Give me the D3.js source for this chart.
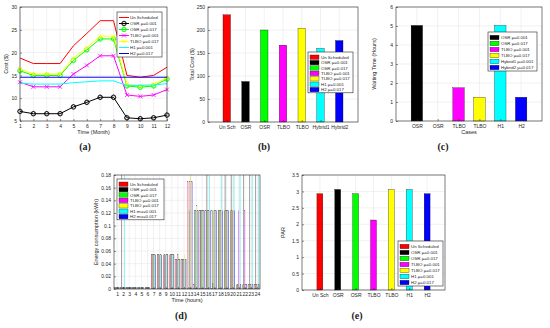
<!DOCTYPE html>
<html>
<head>
<meta charset="utf-8">
<script src="https://cdn.jsdelivr.net/npm/d3@7"></script>
<style>
body { margin: 0; background: #fff; }
text { font-family: "Liberation Sans", Arial, sans-serif; }
</style>
</head>
<body>
<div id="fig"></div>
<script>
// ---- data ----
const months = [1, 2, 3, 4, 5, 6, 7, 8, 9, 10, 11, 12];
const costUnSch = [18.8, 17.6, 17.6, 17.6, 21.5, 24.2, 27.0, 27.0, 15.0, 14.6, 15.0, 16.8];
const costOsr1 = [7.1, 6.6, 6.6, 6.6, 8.1, 9.1, 10.2, 10.2, 5.7, 5.5, 5.7, 6.3];
const costOsr2 = [16.0, 15.0, 15.0, 15.0, 18.3, 20.6, 23.0, 23.0, 12.7, 12.4, 12.7, 14.2];
const costTlbo1 = [13.5, 12.5, 12.5, 12.5, 15.3, 17.2, 19.3, 19.3, 10.7, 10.4, 10.7, 11.9];
const costTlbo2 = [16.4, 15.3, 15.3, 15.3, 18.8, 21.1, 23.6, 23.6, 13.1, 12.7, 13.1, 14.5];
const costH1 = [13.3, 13.1, 13.1, 13.1, 13.4, 13.6, 13.8, 13.8, 12.8, 12.8, 12.9, 13.2];
const costH2 = [14.6, 14.6, 14.6, 14.6, 14.6, 14.6, 14.6, 14.6, 14.6, 14.6, 14.6, 14.6];

const totalCats = ["Un Sch", "OSR", "OSR", "TLBO", "TLBO", "Hybrid1", "Hybrid2"];
const totalCost = [233, 88, 200, 167, 204, 160, 177];

const waitCats = ["OSR", "OSR", "TLBO", "TLBO", "H1", "H2"];
const waitTime = [5.03, 0, 1.75, 1.25, 5.03, 1.25];

const hours = d3.range(1, 25);
const eUnSch = [.003,.003,.003,.003,.003,.003,.054,.054,.054,.054,.047,.047,.17,.007,.124,.124,.124,.124,.124,.124,.007,.007,.007,.007];
const eOsr1  = [.003,.2,.003,.003,.003,.003,.054,.054,.054,.054,.047,.047,.003,.124,.124,.2,.008,.124,.2,.2,.007,.2,.2,.2];
const eOsr2  = [.003,.003,.003,.003,.003,.003,.054,.054,.054,.054,.047,.047,.124,.124,.124,.124,.124,.124,.124,.124,.007,.007,.007,.007];
const eTlbo1 = [.003,.003,.003,.003,.003,.003,.054,.054,.054,.054,.054,.047,.17,.124,.124,.124,.124,.124,.124,.124,.124,.124,.007,.007];
const eTlbo2 = [.003,.003,.003,.003,.003,.003,.054,.054,.054,.054,.054,.054,.2,.132,.124,.124,.124,.124,.124,.124,.007,.007,.007,.007];
const eH1    = [.003,.2,.003,.003,.003,.003,.054,.054,.054,.054,.047,.047,.003,.124,.124,.2,.124,.2,.124,.2,.2,.007,.2,.2];
const eH2    = [.003,.003,.003,.003,.003,.003,.054,.054,.054,.054,.047,.047,.17,.124,.124,.124,.124,.124,.124,.124,.007,.007,.007,.007];

const parCats = ["Un Sch", "OSR", "OSR", "TLBO", "TLBO", "H1", "H2"];
const parVals = [2.93, 3.06, 2.93, 2.13, 3.06, 3.06, 2.93];

const colors = ["#ff0000", "#000000", "#00ff00", "#ff00ff", "#ffff00", "#00ffff", "#0000ff"];
const names7 = ["Un Scheduled", "OSR \u03bc=0.001", "OSR \u03bc=0.017", "TLBO \u03bc=0.001", "TLBO \u03bc=0.017", "H1 \u03bc=0.001", "H2 \u03bc=0.017"];

// ---- svg ----
const width = 550, height = 328;
const svg = d3.select("#fig").append("svg")
    .attr("width", width)
    .attr("height", height)
    .style("background", "#fff");

const axisColor = "#262626";

// light grid behind the marks
function drawGrid(box, x, y, xTicks, yTicks) {
    const g = svg.append("g");
    g.selectAll(".gx").data(xTicks).enter().append("line")
        .attr("x1", d => x(d)).attr("x2", d => x(d))
        .attr("y1", box.y).attr("y2", box.y + box.h)
        .attr("stroke", "#e3e3e3").attr("stroke-width", 0.5);
    g.selectAll(".gy").data(yTicks).enter().append("line")
        .attr("x1", box.x).attr("x2", box.x + box.w)
        .attr("y1", d => y(d)).attr("y2", d => y(d))
        .attr("stroke", "#e3e3e3").attr("stroke-width", 0.5);
}

// box, ticks and labels on top
function drawAxes(box, x, y, xTicks, yTicks, xFmt, yFmt, xLabel, yLabel, yLabelX) {
    const gx = svg.append("g").attr("transform", `translate(0,${box.y + box.h})`)
        .call(d3.axisBottom(x).tickValues(xTicks).tickFormat(xFmt).tickSize(-2).tickPadding(3));
    const gy = svg.append("g").attr("transform", `translate(${box.x},0)`)
        .call(d3.axisLeft(y).tickValues(yTicks).tickFormat(yFmt).tickSize(-2).tickPadding(3));
    [gx, gy].forEach(g => {
        g.select(".domain").remove();
        g.selectAll("line").attr("stroke", axisColor).attr("stroke-width", 0.5);
        g.selectAll("text").attr("fill", axisColor).style("font-size", "5px");
    });
    svg.append("rect")
        .attr("x", box.x).attr("y", box.y)
        .attr("width", box.w).attr("height", box.h)
        .attr("fill", "none").attr("stroke", axisColor).attr("stroke-width", 0.6);
    if (xLabel) {
        svg.append("text").attr("x", box.x + box.w / 2).attr("y", box.y + box.h + 13)
            .attr("text-anchor", "middle").attr("fill", axisColor)
            .style("font-size", "5.5px").text(xLabel);
    }
    svg.append("text")
        .attr("transform", `translate(${yLabelX},${box.y + box.h / 2}) rotate(-90)`)
        .attr("text-anchor", "middle").attr("fill", axisColor)
        .style("font-size", "5.5px").text(yLabel);
}

function drawLegend(lx, ly, lw, rowH, labels, cols, kind) {
    const g = svg.append("g");
    g.append("rect").attr("x", lx).attr("y", ly)
        .attr("width", lw).attr("height", rowH * labels.length + 3)
        .attr("fill", "#fff").attr("stroke", axisColor).attr("stroke-width", 0.6);
    labels.forEach((lab, i) => {
        const cy = ly + 2.5 + rowH * i + rowH / 2;
        if (kind === "rect") {
            g.append("rect").attr("x", lx + 2).attr("y", cy - 2.2)
                .attr("width", 9).attr("height", 4.4)
                .attr("fill", cols[i]).attr("stroke", "#000").attr("stroke-width", 0.3);
        } else {
            g.append("line").attr("x1", lx + 2).attr("x2", lx + 12)
                .attr("y1", cy).attr("y2", cy)
                .attr("stroke", cols[i]).attr("stroke-width", 1);
            drawMarker(g, kind[i], lx + 7, cy, cols[i]);
        }
        g.append("text").attr("x", lx + 13).attr("y", cy + 1.6)
            .attr("fill", axisColor).style("font-size", "4.4px").text(lab);
    });
}

function drawMarker(g, m, cx, cy, col) {
    if (m === "od") {
        g.append("circle").attr("cx", cx).attr("cy", cy).attr("r", 2.3)
            .attr("fill", "none").attr("stroke", col).attr("stroke-width", 0.8);
        g.append("path").attr("d", `M${cx},${cy - 2.3}L${cx + 2.3},${cy}L${cx},${cy + 2.3}L${cx - 2.3},${cy}Z`)
            .attr("fill", "none").attr("stroke", col).attr("stroke-width", 0.6);
    } else if (m === "x") {
        g.append("path").attr("d", `M${cx - 2},${cy - 2}L${cx + 2},${cy + 2}M${cx - 2},${cy + 2}L${cx + 2},${cy - 2}`)
            .attr("stroke", col).attr("stroke-width", 0.8);
    }
}

// ---- (a) cost per month ----
{
    const box = { x: 20, y: 7, w: 147, h: 114 };
    const x = d3.scaleLinear().domain([1, 12]).range([box.x, box.x + box.w]);
    const y = d3.scaleLinear().domain([5, 30]).range([box.y + box.h, box.y]);
    drawGrid(box, x, y, months, [5, 10, 15, 20, 25, 30]);
    const series = [costUnSch, costOsr1, costOsr2, costTlbo1, costTlbo2, costH1, costH2];
    const marks = ["", "od", "od", "x", "x", "", ""];
    const line = d3.line().x((d, i) => x(months[i])).y(d => y(d));
    series.forEach((s, k) => {
        svg.append("path").datum(s).attr("d", line)
            .attr("fill", "none").attr("stroke", colors[k]).attr("stroke-width", 1);
        if (marks[k]) {
            const g = svg.append("g");
            s.forEach((v, i) => drawMarker(g, marks[k], x(months[i]), y(v), colors[k]));
        }
    });
    drawAxes(box, x, y, months, [5, 10, 15, 20, 25, 30], d3.format("d"), d3.format("d"),
        "Time (Month)", "Cost ($)", 8);
    drawLegend(117, 12, 45, 6, names7, colors, marks);
}

// ---- (b) total cost ----
{
    const box = { x: 208, y: 7, w: 150, h: 115 };
    const x = d3.scaleLinear().domain([0, 8]).range([box.x, box.x + box.w]);
    const y = d3.scaleLinear().domain([0, 250]).range([box.y + box.h, box.y]);
    const idx = d3.range(1, 8);
    drawGrid(box, x, y, idx, d3.range(0, 251, 50));
    const bw = x(0.4) - x(0);
    svg.append("g").selectAll("rect").data(totalCost).enter().append("rect")
        .attr("x", (d, i) => x(i + 1) - bw / 2).attr("width", bw)
        .attr("y", d => y(d)).attr("height", d => y(0) - y(d))
        .attr("fill", (d, i) => colors[i]).attr("stroke", "#000").attr("stroke-width", 0.3);
    drawAxes(box, x, y, idx, d3.range(0, 251, 50), d => totalCats[d - 1], d3.format("d"),
        null, "Total Cost ($)", 194);
    drawLegend(308, 52, 45, 5.4, names7, colors, "rect");
}

// ---- (c) waiting time ----
{
    const box = { x: 396, y: 7, w: 146, h: 114 };
    const x = d3.scaleLinear().domain([0, 7]).range([box.x, box.x + box.w]);
    const y = d3.scaleLinear().domain([0, 6]).range([box.y + box.h, box.y]);
    const idx = d3.range(1, 7);
    drawGrid(box, x, y, idx, d3.range(0, 7));
    const bw = x(0.55) - x(0);
    const cCols = colors.slice(1);
    svg.append("g").selectAll("rect").data(waitTime).enter().append("rect")
        .attr("x", (d, i) => x(i + 1) - bw / 2).attr("width", bw)
        .attr("y", d => y(d)).attr("height", d => y(0) - y(d))
        .attr("fill", (d, i) => cCols[i]).attr("stroke", "#000").attr("stroke-width", 0.3);
    drawAxes(box, x, y, idx, d3.range(0, 7), d => waitCats[d - 1], d3.format("d"),
        "Cases", "Waiting Time (Hours)", 376);
    const cNames = ["OSR \u03bc=0.001", "OSR \u03bc=0.017", "TLBO \u03bc=0.001", "TLBO \u03bc=0.017", "Hybrid1 \u03bc=0.001", "Hybrid2 \u03bc=0.017"];
    drawLegend(488, 32, 49, 6, cNames, cCols, "rect");
}

// ---- (d) hourly energy ----
{
    const box = { x: 114, y: 175, w: 146, h: 114 };
    const x = d3.scaleLinear().domain([0.5, 24.5]).range([box.x, box.x + box.w]);
    const y = d3.scaleLinear().domain([0, 0.18]).range([box.y + box.h, box.y]);
    const yT = d3.range(0, 10).map(i => +(i * 0.02).toFixed(2));
    drawGrid(box, x, y, hours, yT);
    svg.append("clipPath").attr("id", "clipD").append("rect")
        .attr("x", box.x).attr("y", box.y).attr("width", box.w).attr("height", box.h);
    const series = [eUnSch, eOsr1, eOsr2, eTlbo1, eTlbo2, eH1, eH2];
    const inner = d3.scaleBand().domain(d3.range(7)).range([-0.4, 0.4]);
    const g = svg.append("g").attr("clip-path", "url(#clipD)");
    series.forEach((s, k) => {
        g.selectAll(null).data(s).enter().append("rect")
            .attr("x", (d, i) => x(hours[i] + inner(k)))
            .attr("width", x(inner.bandwidth() * 0.85) - x(0))
            .attr("y", d => y(d)).attr("height", d => y(0) - y(d))
            .attr("fill", colors[k]).attr("fill-opacity", k === 1 ? 0.55 : 0.7)
            .attr("stroke", "#777").attr("stroke-width", 0.08);
    });
    drawAxes(box, x, y, hours, yT, d3.format("d"), d => d === 0 ? "0" : String(d),
        "Time (hours)", "Energy consumption (kWh)", 98);
    const dNames = names7.slice(0, 5).concat(["H1 mu=0.001", "H2 mu=0.017"]);
    drawLegend(117, 179, 47, 5.4, dNames, colors, "rect");
}

// ---- (e) PAR ----
{
    const box = { x: 302, y: 175, w: 143, h: 115 };
    const x = d3.scaleLinear().domain([0, 8]).range([box.x, box.x + box.w]);
    const y = d3.scaleLinear().domain([0, 3.5]).range([box.y + box.h, box.y]);
    const idx = d3.range(1, 8);
    const yT = d3.range(0, 8).map(i => i * 0.5);
    drawGrid(box, x, y, idx, yT);
    const bw = x(0.33) - x(0);
    svg.append("g").selectAll("rect").data(parVals).enter().append("rect")
        .attr("x", (d, i) => x(i + 1) - bw / 2).attr("width", bw)
        .attr("y", d => y(d)).attr("height", d => y(0) - y(d))
        .attr("fill", (d, i) => colors[i]).attr("stroke", "#000").attr("stroke-width", 0.3);
    drawAxes(box, x, y, idx, yT, d => parCats[d - 1], d => String(d),
        null, "PAR", 285);
    drawLegend(398, 241, 45, 6, names7, colors, "rect");
}

// ---- captions ----
const captions = [["(a)", 85, 150], ["(b)", 264, 150], ["(c)", 443, 150], ["(d)", 181, 319], ["(e)", 357, 319]];
captions.forEach(c => {
    svg.append("text").attr("x", c[1]).attr("y", c[2]).attr("text-anchor", "middle")
        .style("font-family", "'Liberation Serif', 'DejaVu Serif', serif")
        .style("font-size", "10px").style("font-weight", "bold")
        .attr("fill", "#222").text(c[0]);
});
</script>
</body>
</html>
